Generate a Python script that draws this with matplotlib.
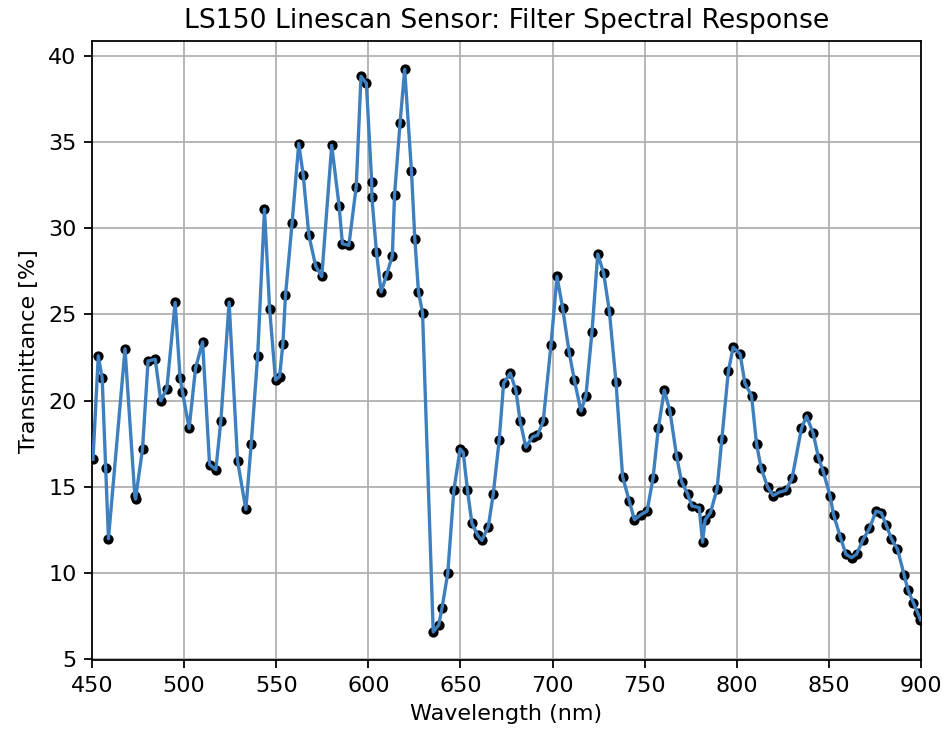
import numpy as np
import matplotlib
matplotlib.use("Agg")
import matplotlib.pyplot as plt

# wavelength samples (nm)
wavelength = [
    450.5, 453.4, 455.5, 457.4, 458.9, 467.9, 473.2, 473.6, 477.4, 480.4,
    484.3, 487.3, 490.6, 495.1, 497.8, 499.1, 502.7, 506.2, 510.0, 513.8,
    517.2, 519.9, 524.4, 529.0, 533.5, 536.4, 539.9, 543.6, 546.4, 549.6,
    551.8, 553.6, 555.0, 558.6, 562.2, 564.6, 567.7, 571.4, 574.7, 580.1,
    584.1, 585.9, 589.4, 593.4, 596.0, 598.9, 601.8, 601.9, 604.4, 606.9,
    609.9, 613.0, 614.2, 617.2, 619.7, 623.4, 625.2, 627.2, 629.4, 635.2,
    638.2, 640.0, 643.1, 646.4, 649.8, 651.5, 653.8, 656.2, 659.3, 661.6,
    665.1, 667.8, 671.0, 673.4, 677.0, 680.1, 682.4, 685.5, 689.1, 691.8,
    694.9, 699.1, 702.4, 705.4, 709.0, 711.8, 715.4, 718.1, 721.4, 724.5,
    727.7, 730.8, 734.4, 738.0, 741.6, 744.4, 748.0, 751.3, 754.5, 757.4,
    760.6, 763.7, 767.3, 770.0, 773.3, 775.6, 779.6, 781.4, 782.8, 785.7,
    789.3, 791.9, 795.4, 798.0, 801.8, 804.4, 808.0, 810.7, 813.2, 816.7,
    819.7, 823.2, 826.6, 830.0, 835.1, 837.9, 841.5, 844.3, 846.9, 850.6,
    852.5, 856.2, 859.2, 862.3, 865.0, 868.3, 872.0, 875.6, 878.4, 881.1,
    883.9, 887.2, 890.8, 893.0, 895.8, 898.2, 899.7,
]

# transmittance (%)
transmittance = [
    16.6, 22.6, 21.3, 16.1, 12.0, 23.0, 14.5, 14.3, 17.2, 22.3,
    22.4, 20.0, 20.7, 25.7, 21.3, 20.5, 18.4, 21.9, 23.4, 16.3,
    16.0, 18.8, 25.7, 16.5, 13.7, 17.5, 22.6, 31.1, 25.3, 21.2,
    21.4, 23.3, 26.1, 30.3, 34.9, 33.1, 29.6, 27.8, 27.2, 34.8,
    31.3, 29.1, 29.0, 32.4, 38.8, 38.4, 32.7, 31.8, 28.6, 26.3,
    27.3, 28.4, 31.9, 36.1, 39.2, 33.3, 29.4, 26.3, 25.1, 6.6,
    7.0, 8.0, 10.0, 14.8, 17.2, 17.0, 14.8, 12.9, 12.2, 11.9,
    12.7, 14.6, 17.7, 21.0, 21.6, 20.6, 18.8, 17.3, 17.9, 18.0,
    18.8, 23.2, 27.2, 25.4, 22.8, 21.2, 19.4, 20.3, 24.0, 28.5,
    27.4, 25.2, 21.1, 15.6, 14.2, 13.1, 13.4, 13.6, 15.5, 18.4,
    20.6, 19.4, 16.8, 15.3, 14.6, 13.9, 13.8, 11.8, 13.1, 13.5,
    14.9, 17.8, 21.7, 23.1, 22.7, 21.0, 20.3, 17.5, 16.1, 15.0,
    14.5, 14.7, 14.8, 15.5, 18.4, 19.1, 18.1, 16.7, 15.9, 14.5,
    13.4, 12.1, 11.1, 10.9, 11.1, 11.9, 12.6, 13.6, 13.5, 12.8,
    12.0, 11.4, 9.9, 9.0, 8.3, 7.7, 7.3,
]

DPI = 160
fig = plt.figure(figsize=(946 / DPI, 738 / DPI), dpi=DPI)
fig.subplots_adjust(left=0.0973, right=0.9736, top=0.944, bottom=0.1057)
ax = fig.add_subplot(111)

ax.scatter(wavelength, transmittance, s=13, color="black", zorder=2)
ax.plot(wavelength, transmittance, color="#3d7fbf", linewidth=1.5, zorder=3)

ax.set_xlim(450, 900)
ax.set_title("LS150 Linescan Sensor: Filter Spectral Response")
ax.set_xlabel("Wavelength (nm)")
ax.set_ylabel("Transmittance [%]")
ax.grid(True)

fig.savefig("out.png", dpi=DPI)
